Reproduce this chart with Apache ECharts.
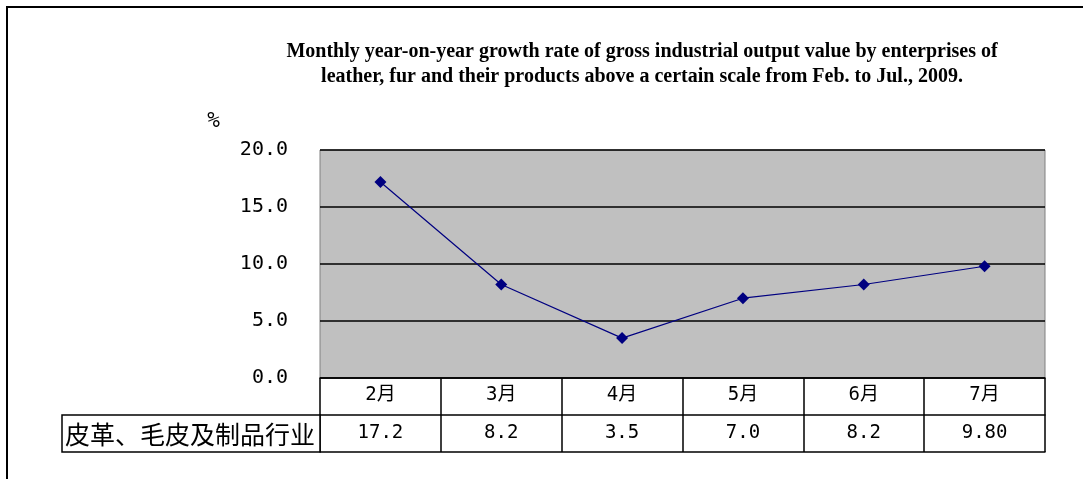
<!DOCTYPE html>
<html>
<head>
<meta charset="utf-8">
<script src="https://cdn.jsdelivr.net/npm/echarts@6/dist/echarts.min.js"></script>
<style>
  html, body { margin: 0; padding: 0; background: #fff; }
  #chart { width: 1083px; height: 479px; }
</style>
</head>
<body>
<div id="chart"></div>
<script>
// 月份
var months = ['2月', '3月', '4月', '5月', '6月', '7月'];
// 同比增速 %
var growth = [17.2, 8.2, 3.5, 7.0, 8.2, 9.8];
// 表格里显示的文字
var growthText = ['17.2', '8.2', '3.5', '7.0', '8.2', '9.80'];
var yTicks = [0, 5, 10, 15, 20];
var rowName = '皮革、毛皮及制品行业';

var mono = '"DejaVu Sans Mono", "Noto Sans CJK SC", monospace';
var myChart = echarts.init(document.getElementById('chart'));

myChart.setOption({
  backgroundColor: '#fff',
  animation: false,
  title: {
    text: 'Monthly year-on-year growth rate of gross industrial output value by enterprises of\nleather, fur and their products above a certain scale from Feb. to Jul., 2009.',
    left: 637,
    top: 34,
    textAlign: 'center',
    textStyle: {
      fontFamily: '"Liberation Serif", "Times New Roman", serif',
      fontSize: 20,
      fontWeight: 'bold',
      color: '#000',
      lineHeight: 25
    }
  },
  grid: {
    left: 320,
    right: 38,
    top: 150,
    bottom: 101,
    show: true,
    backgroundColor: '#C0C0C0',
    borderColor: '#808080',
    borderWidth: 1
  },
  xAxis: [
    {
      type: 'category',
      data: months,
      boundaryGap: true,
      axisLine: { show: true, lineStyle: { color: '#000', width: 1.5 } },
      axisTick: { show: true, length: 74, lineStyle: { color: '#000', width: 1.5 } },
      axisLabel: { margin: 8, fontFamily: mono, fontSize: 19, color: '#000' },
      splitLine: { show: false }
    },
    {
      type: 'category',
      data: months,
      position: 'bottom',
      offset: 37,
      boundaryGap: true,
      axisLine: { show: true, lineStyle: { color: '#000', width: 1.5 } },
      axisTick: { show: false },
      axisLabel: {
        margin: 9, fontFamily: mono, fontSize: 19, color: '#000',
        formatter: function (v, i) { return growthText[i]; }
      }
    },
    {
      type: 'category',
      data: months,
      position: 'bottom',
      offset: 74,
      axisLine: { show: true, lineStyle: { color: '#000', width: 1.5 } },
      axisTick: { show: false },
      axisLabel: { show: false }
    }
  ],
  yAxis: {
    type: 'value',
    min: yTicks[0],
    max: yTicks[yTicks.length - 1],
    interval: 5,
    name: '%',
    nameLocation: 'end',
    nameGap: 18,
    nameTextStyle: { fontFamily: mono, fontSize: 21, color: '#000', align: 'right', padding: [0, 100, 0, 0] },
    axisLine: { show: false },
    axisTick: { show: false },
    axisLabel: {
      margin: 32, fontFamily: mono, fontSize: 20, color: '#000',
      formatter: function (v) { return v.toFixed(1); }
    },
    splitLine: { show: true, lineStyle: { color: '#000', width: 1.5 } }
  },
  graphic: [
    {
      type: 'rect',
      shape: { x: 7, y: 7, width: 1100, height: 500 },
      style: { fill: 'none', stroke: '#000', lineWidth: 2 },
      silent: true
    },
    {
      type: 'rect',
      shape: { x: 62, y: 415, width: 258, height: 37 },
      style: { fill: '#fff', stroke: '#000', lineWidth: 1.5 },
      z: 10
    },
    {
      type: 'text',
      x: 65, y: 434,
      style: {
        text: rowName,
        fontFamily: '"Noto Sans CJK SC", sans-serif',
        fontSize: 25,
        fill: '#000',
        verticalAlign: 'middle'
      },
      z: 11
    }
  ],
  series: [
    {
      name: rowName,
      type: 'line',
      data: growth,
      symbol: 'diamond',
      symbolSize: 12,
      itemStyle: { color: '#000080' },
      lineStyle: { color: '#000080', width: 1.2 }
    }
  ]
});
</script>
</body>
</html>
